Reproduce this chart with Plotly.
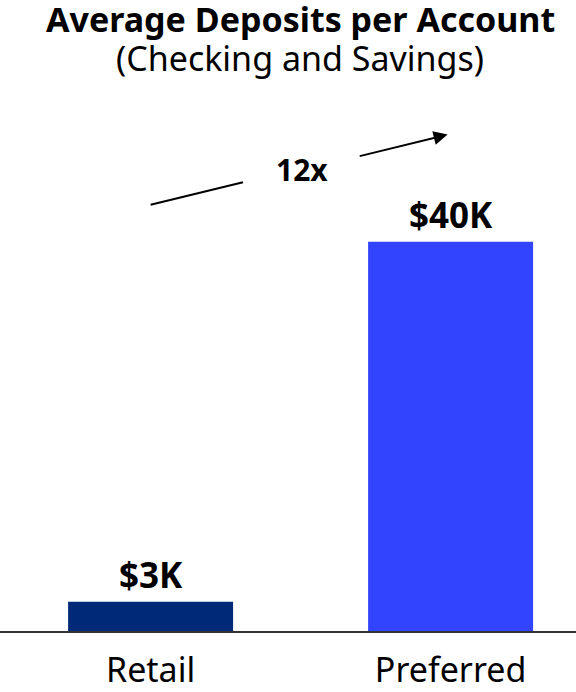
import plotly.graph_objects as go

categories = ["Retail", "Preferred"]
values = [3, 40]          # $K
labels = ["$3K", "$40K"]
colors = ["#002a78", "#3344ff"]
multiple_text = "12x"

FONT = "Noto Sans"

fig = go.Figure()
fig.add_trace(go.Bar(
    x=[0, 1], y=values, width=0.55,
    marker=dict(color=colors, line=dict(width=0)),
    hoverinfo="skip",
))

for i, (v, t) in enumerate(zip(values, labels)):
    fig.add_annotation(x=i, y=v, text=f"<b>{t}</b>", showarrow=False,
                       yanchor="middle", yshift=27,
                       font=dict(family=FONT, size=35, color="black"))

# growth arrow
fig.add_shape(type="line", x0=0, y0=43.8, x1=0.308, y1=46.1,
              xref="x", yref="y", line=dict(color="black", width=2))
fig.add_annotation(x=0.99, y=51.0, ax=0.692, ay=48.75, axref="x", ayref="y",
                   xref="x", yref="y", text="", showarrow=True,
                   arrowhead=2, arrowsize=1.4, arrowwidth=2, arrowcolor="black")
fig.add_annotation(x=0.503, y=47.4, text=f"<b>{multiple_text}</b>", showarrow=False,
                   xref="x", yref="y", yanchor="middle",
                   font=dict(family=FONT, size=30, color="black"))

# title
fig.add_annotation(x=300/576, y=1, xref="paper", yref="paper", yanchor="middle",
                   yshift=101, text="<b>Average Deposits per Account</b>",
                   showarrow=False, font=dict(family=FONT, size=34, color="black"))
fig.add_annotation(x=300/576, y=1, xref="paper", yref="paper", yanchor="middle",
                   yshift=62, text="(Checking and Savings)",
                   showarrow=False, font=dict(family=FONT, size=34, color="black"))

fig.update_layout(
    width=576, height=692,
    margin=dict(l=0, r=0, t=120, b=56),
    paper_bgcolor="white", plot_bgcolor="white",
    showlegend=False,
    xaxis=dict(range=[-0.502, 1.418], tickvals=[0, 1], ticktext=categories,
               showgrid=False, zeroline=False, showline=True, linecolor="#333333",
               linewidth=2, ticks="outside", ticklen=8, tickcolor="white",
               tickfont=dict(family=FONT, size=34, color="black")),
    yaxis=dict(range=[0, 52.5], visible=False, showgrid=False),
)

fig.write_html("out.html", config={"displayModeBar": False})

# remove the browser's default body margin so the figure sits at (0, 0)
with open("out.html", "r", encoding="utf-8") as f:
    html = f.read()
html = html.replace("<head>", "<head><style>html,body{margin:0;padding:0;overflow:hidden}</style>", 1)
with open("out.html", "w", encoding="utf-8") as f:
    f.write(html)
